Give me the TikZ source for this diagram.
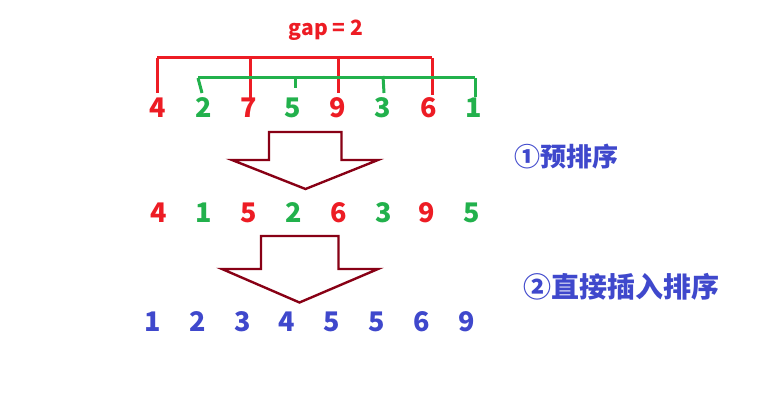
\documentclass[tikz,border=0pt]{standalone}
\usepackage{fontspec}
\setmainfont{Noto Sans CJK SC}
\definecolor{pred}{HTML}{ED1C24}
\definecolor{pgreen}{HTML}{22B14C}
\definecolor{pblue}{HTML}{3F48CC}
\definecolor{pdark}{HTML}{880015}
\begin{document}
\begin{tikzpicture}[x=1pt,y=-1pt,
  dig/.style={font=\fontsize{27}{27}\selectfont\bfseries, inner sep=0pt, anchor=base},
  rd/.style={dig, text=pred},
  gd/.style={dig, text=pgreen},
  bd/.style={dig, text=pblue},
  lab/.style={text=pblue, inner sep=0pt, anchor=west},
  redline/.style={draw=pred, line width=3pt},
  greenline/.style={draw=pgreen, line width=3pt},
  bigarrow/.style={draw=pdark, line width=2.4pt, line join=miter}]
\useasboundingbox (0,0) rectangle (780,403);
\fill[white] (0,0) rectangle (780,403);

% title
\node[text=pred, font=\fontsize{21}{21}\selectfont\bfseries, inner sep=0pt, anchor=base] (gap) at (326,36) {gap = 2};

% row 1
\node[rd] (a1) at (158,118) {4};
\node[gd] (a2) at (204,118) {2};
\node[rd] (a3) at (249,118) {7};
\node[gd] (a4) at (293,118) {5};
\node[rd] (a5) at (338,118) {9};
\node[gd] (a6) at (383,118) {3};
\node[rd] (a7) at (429,118) {6};
\node[gd] (a8) at (474,118) {1};

% red bracket
\coordinate (rt1) at (157,58);
\coordinate (rt2) at (250,58);
\coordinate (rt3) at (338,56);
\coordinate (rt4) at (432,58);
\draw[redline] (rt1) -- (432,58);
\draw[redline] (rt1) -- (157,93);
\draw[redline] (rt2) -- (250,98);
\draw[redline] (rt3) -- (338,93);
\draw[redline] (rt4) -- (432,95);

% green bracket
\coordinate (gt1) at (198,78);
\coordinate (gt2) at (295,78);
\coordinate (gt3) at (383,76);
\coordinate (gt4) at (475,78);
\draw[greenline] (gt1) -- (gt4);
\draw[greenline] (gt1) -- (202,93);
\draw[greenline] (gt2) -- (295,88);
\draw[greenline] (gt3) -- (384,93);
\draw[greenline] (gt4) -- (475,97);

% arrow 1
\draw[bigarrow] (269,132) -- (341.5,132) -- (341.5,160) -- (378,160) -- (305.5,189) -- (232,160) -- (269,160) -- cycle;
\node[lab, font=\fontsize{26}{26}\selectfont\bfseries] (l1) at (514,157) {①预排序};

% row 2
\node[rd] (b1) at (159,222.5) {4};
\node[gd] (b2) at (204,222.5) {1};
\node[rd] (b3) at (248.5,222.5) {5};
\node[gd] (b4) at (293.5,222.5) {2};
\node[rd] (b5) at (338.5,222.5) {6};
\node[gd] (b6) at (383.5,222.5) {3};
\node[rd] (b7) at (427,222.5) {9};
\node[gd] (b8) at (472,222.5) {5};

% arrow 2
\draw[bigarrow] (261,236) -- (338.5,236) -- (338.5,269) -- (378,269) -- (299.5,302.5) -- (222,269) -- (261,269) -- cycle;
\node[lab, font=\fontsize{28}{28}\selectfont\bfseries] (l2) at (523,287) {②直接插入排序};

% row 3
\node[bd] (c1) at (153,332) {1};
\node[bd] (c2) at (198,332) {2};
\node[bd] (c3) at (243,332) {3};
\node[bd] (c4) at (287,332) {4};
\node[bd] (c5) at (332,332) {5};
\node[bd] (c6) at (377,332) {5};
\node[bd] (c7) at (422,332) {6};
\node[bd] (c8) at (467,332) {9};
\end{tikzpicture}
\end{document}
